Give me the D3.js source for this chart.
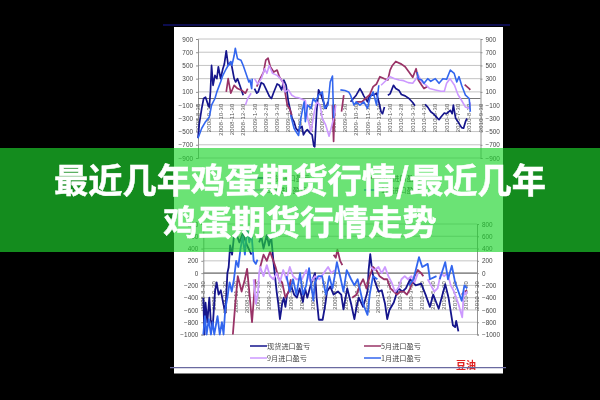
<!DOCTYPE html>
<html><head><meta charset="utf-8">
<script src="https://d3js.org/d3.v7.min.js"></script>
<style>html,body{margin:0;background:#000;overflow:hidden}svg{display:block}</style></head>
<body><svg id="c" width="600" height="400"></svg>
<script>
const tickLabels=["2008-8-30","2008-9-30","2008-10-30","2008-11-30","2008-12-30","2009-1-30","2009-2-28","2009-3-30","2009-4-30","2009-5-30","2009-6-30","2009-7-30","2009-8-30","2009-9-30","2009-10-30","2009-11-30","2009-12-30","2010-1-30","2010-2-28","2010-3-30","2010-4-30","2010-5-30","2010-6-30","2010-7-30","2010-8-30","2010-9-30"];
const topTicks=[900,700,500,300,100,-100,-300,-500,-700,-900];
const botTicks=[800,600,400,200,0,-200,-400,-600,-800,-1000];
const legendNames=["现货进口盈亏","5月进口盈亏","9月进口盈亏","1月进口盈亏"];
const titleLines=["最近几年鸡蛋期货行情/最近几年","鸡蛋期货行情走势"];
const N=null;
const spotTop=[[0,-600],[.1,-400],[.33,-150],[.5,0],[.67,20],[.9,-100],[1,-130],[1.1,100],[1.2,500],[1.33,200],[1.5,350],[1.67,300],[1.8,480],[2,300],[2.2,450],[2.33,520],[2.5,720],[2.67,500],[2.9,550],[3,480],[3.2,300],[3.33,250],[3.5,300],[3.7,200],[4,50],[4.05,N],[5,150],[5.2,80],[5.33,100],[5.6,240],[5.8,220],[6,150],[6.33,30],[6.5,0],[6.67,80],[7,220],[7.2,200],[7.4,130],[7.6,280],[7.8,200],[8,-50],[8.2,-200],[8.33,-300],[8.5,-350],[8.67,-450],[8.9,-500],[9,-450],[9.2,-420],[9.33,-550],[9.5,-500],[9.67,-470],[9.9,-520],[10.1,-550],[10.25,-720],[10.33,-730],[10.5,-200],[10.67,130],[10.9,50],[11,0],[11.2,-100],[11.33,-150],[11.5,-50],[11.6,N],[13.5,-50],[14,50],[14.33,150],[14.5,100],[14.67,40],[15,-50],[15.2,50],[15.5,50],[15.8,80],[16,-50],[16.2,-200],[16.33,-230],[16.5,-130],[16.6,N],[16.8,50],[17,70],[17.3,200],[17.5,150],[17.8,120],[18,60],[18.33,40],[18.67,0],[19,-60],[19.2,-110],[19.3,N],[20.1,-90],[20.33,-130],[20.6,-200],[20.9,-240],[21.2,-300],[21.33,-320],[21.5,-280],[21.8,-220],[22,-230],[22.33,-180],[22.5,-230],[22.6,-100],[22.8,-300],[23,-350],[23.33,-440],[23.5,-450],[23.67,-350],[23.8,-300]];
const janTop=[[0,-600],[.33,-450],[.67,-350],[1,-280],[1.2,-100],[1.5,0],[1.67,100],[2,250],[2.2,350],[2.5,450],[2.67,500],[2.9,560],[3,500],[3.2,650],[3.3,760],[3.5,600],[3.8,580],[4,500],[4.3,350],[4.5,250],[4.6,280],[4.75,150],[4.8,300],[4.85,N],[8.2,-250],[8.5,-450],[8.67,-500],[8.9,-560],[9.1,-300],[9.33,-100],[9.4,-50],[9.5,-350],[9.7,-100],[10,-150],[10.2,0],[10.4,-50],[10.67,50],[11,100],[11.2,-150],[11.5,-100],[11.7,250],[11.9,340],[12,-300],[12.05,N],[12.6,130],[13,120],[13.33,100],[13.5,50],[13.8,-100],[14,-50],[14.33,-100],[14.67,-50],[15,-150],[15.2,0],[15.5,100],[15.8,-100],[16,200],[16.1,N],[19.4,400],[19.5,300],[19.8,280],[20,230],[20.33,300],[20.6,260],[21,300],[21.33,230],[21.67,300],[22,290],[22.33,430],[22.67,380],[22.9,250],[23.1,330],[23.33,200],[23.67,50],[24,0],[24.1,-200]];
const mayTop=[[2.5,100],[2.67,300],[2.9,80],[3.2,200],[3.5,150],[3.9,120],[4.2,80],[4.4,150],[4.5,N],[5.2,180],[5.5,300],[5.8,400],[6,580],[6.2,610],[6.4,480],[6.7,400],[7,430],[7.2,330],[7.5,250],[7.7,100],[7.9,-100],[8.1,-150],[8.3,-250],[8.4,N],[11.9,-100],[12,-650],[12.1,-100],[12.2,N],[12.7,-200],[12.9,50],[13,N],[14,-50],[14.5,-50],[15.2,60],[15.5,180],[15.8,220],[16.1,330],[16.5,300],[16.8,280],[17,430],[17.2,500],[17.5,560],[18,520],[18.33,480],[18.67,400],[19,320],[19.3,450],[19.5,280],[19.8,200],[20,150],[20.3,180],[20.4,N],[23.6,210],[24,150],[24.1,130]];
const sepTop=[[4.2,-100],[4.4,0],[4.7,80],[4.8,N],[5,300],[5.3,220],[5.6,300],[5.9,450],[6.1,380],[6.3,500],[6.6,380],[7,350],[7.3,300],[7.5,250],[7.7,100],[8,130],[8.3,50],[8.6,20],[8.9,10],[9.2,-10],[9.5,-30],[9.7,-300],[10,-500],[10.3,-200],[10.5,-50],[10.8,-100],[11,-300],[11.3,-400],[11.6,-570],[12,-300],[12.2,-100],[12.3,N],[16.2,200],[16.5,250],[17,330],[17.4,300],[17.8,280],[18.2,270],[18.6,240],[19,230],[19.3,300],[19.5,350],[19.8,250],[20.2,200],[20.5,150],[21,130],[21.5,110],[21.8,110],[22,230],[22.3,300],[22.7,200],[23,60],[23.33,-30],[23.67,-130],[24,-150],[24.1,-60]];
const spotBot=[[0,-400],[.1,-1000],[.2,-480],[.37,-800],[.55,-400],[.67,-750],[.85,-900],[1.07,-300],[1.22,-150],[1.4,-350],[1.6,-280],[1.83,-500],[2.02,-650],[2.2,0],[2.32,100],[2.45,450],[2.63,300],[2.8,600],[3,650],[3.3,500],[3.6,650],[4,450],[4.4,300],[4.5,N],[5.1,500],[5.3,600],[5.5,400],[5.8,620],[6,450],[6.2,600],[6.4,200],[6.7,-300],[6.85,-500],[7,-750],[7.2,-500],[7.35,-400],[7.5,-550],[7.65,-350],[7.85,-280],[8,-200],[8.3,-350],[8.55,-400],[8.8,-250],[9.1,-470],[9.3,-250],[9.5,-400],[9.8,-200],[10.2,0],[10.35,-400],[10.55,-760],[10.9,-760],[11.15,-500],[11.3,-300],[11.6,-220],[11.9,-350],[12.3,-300],[12.6,-350],[12.8,-590],[13.15,-250],[13.5,-500],[13.8,-750],[14,-550],[14.2,-400],[14.6,-550],[15,-300],[15.1,50],[15.25,310],[15.45,0],[15.7,-150],[16,-300],[16.3,-280],[16.6,-500],[16.8,-750],[17,-600],[17.4,-480],[17.8,-250],[18.2,-300],[18.5,-250],[18.9,-100],[19.4,-200],[19.9,-170],[20.3,-350],[20.7,-550],[21,-350],[21.5,-580],[22.1,-180],[22.4,-400],[22.8,-850],[23,-880],[23.1,-780],[23.3,-950]];
const janBot=[[0,-1000],[.15,-700],[.3,-1000],[.5,-750],[.7,-1000],[.85,-800],[1,-1000],[1.3,-700],[1.5,-1000],[1.7,-800],[1.85,-1000],[2,-600],[2.2,-400],[2.4,-150],[2.6,-300],[2.8,-100],[3,200],[3.2,100],[3.4,400],[3.6,600],[3.8,300],[4,750],[4.2,500],[4.4,650],[4.6,200],[4.8,150],[4.95,220],[5,N],[7.6,-50],[7.9,-300],[8.2,-100],[8.5,-350],[8.84,0],[9.1,-350],[9.4,-200],[9.66,80],[9.9,-250],[10.05,-450],[10.2,-150],[10.5,-50],[10.85,-50],[11.2,-350],[11.5,-50],[11.8,-250],[12,-50],[12.2,180],[12.5,-50],[12.8,-300],[13.1,50],[13.5,-100],[13.8,-200],[14.1,-100],[14.6,-500],[15,-680],[15.2,-350],[15.5,-50],[15.9,-100],[16,N],[18.8,-200],[19.2,-100],[19.7,260],[20,100],[20.5,150],[20.7,-100],[21.3,-50],[21.4,N],[21.6,-100],[22.1,180],[22.35,-100],[22.7,120],[23,-150],[23.3,-300],[23.6,-450],[23.85,-200],[24.1,-250]];
const mayBot=[[2.7,-1000],[2.9,-550],[3.15,-50],[3.5,-300],[3.8,-100],[4,70],[4.2,-300],[4.45,-800],[4.75,-100],[4.8,N],[5.2,100],[5.5,300],[5.8,200],[6.1,350],[6.4,200],[6.6,100],[6.9,-100],[7.2,-150],[7.5,-400],[7.8,-300],[8,-100],[8.1,N],[11.9,300],[12.1,250],[12.25,380],[12.5,200],[12.7,130],[12.8,N],[13.6,-400],[14,-350],[14.3,-200],[14.6,-100],[14.9,-250],[15.2,-50],[15.5,100],[15.8,50],[16.1,-50],[16.5,-100],[16.8,-100],[17.1,-250],[17.4,-300],[17.7,-350],[18,-300],[18.3,-300],[18.6,-350],[18.9,-250],[19.3,-50],[19.6,50],[19.9,0],[20.1,-50],[20.2,N],[23.6,-350],[23.9,-300],[24.1,-280]];
const sepBot=[[4.6,-100],[4.8,-500],[5,-300],[5.1,0],[5.2,100],[5.5,-50],[5.8,130],[6.1,-50],[6.4,-100],[6.7,0],[7,-150],[7.3,50],[7.6,-100],[7.9,100],[8.2,-50],[8.5,-100],[9,-100],[9.4,50],[9.8,-150],[10.2,-50],[10.6,-100],[11,0],[11.4,100],[11.7,0],[12,50],[12.1,N],[15.3,100],[15.6,50],[16,100],[16.3,0],[16.6,100],[16.9,-50],[17.2,-150],[17.5,-300],[17.8,-250],[18.1,-100],[18.4,-50],[18.7,-100],[19,-50],[19.3,-150],[19.6,0],[19.9,N],[20.5,-100],[20.8,-200],[21.1,-300],[21.4,-250],[21.7,0],[22,-50],[22.3,0],[22.6,-200],[22.9,-300],[23.3,-500],[23.65,-720],[23.8,-300],[23.95,-350],[24.1,-300]];
const colors={spot:"#14148c",may:"#993366",sep:"#cc99ff",jan:"#3366ee"};

const svg=d3.select("#c");
const defs=svg.append("defs");
defs.append("filter").attr("id","soft").attr("x",0).attr("y",0).attr("width",1).attr("height",1).attr("filterUnits","userSpaceOnUse")
  .attr("width",600).attr("height",400).append("feGaussianBlur").attr("stdDeviation",0.55);
svg.append("rect").attr("x",0).attr("y",0).attr("width",600).attr("height",400).attr("fill","#000");
const page=svg.append("g").attr("filter","url(#soft)");
page.append("line").attr("x1",163).attr("x2",510).attr("y1",25).attr("y2",25).attr("stroke","#12126a").attr("stroke-width",1.4);
page.append("rect").attr("x",174).attr("y",27).attr("width",329).attr("height",346.5).attr("fill","#fff");

const FONT="'Liberation Sans','Noto Sans CJK SC',sans-serif";
function panel(cfg){
  const x=d3.scaleLinear().domain([0,25]).range(cfg.xr);
  const y=d3.scaleLinear().domain(cfg.vd).range(cfg.yr);
  const g=page.append("g");
  g.append("g").selectAll("line").data(cfg.ticks).join("line")
    .attr("x1",cfg.xr[0]).attr("x2",cfg.xr[1]).attr("y1",d=>y(d)).attr("y2",d=>y(d))
    .attr("stroke","#bdbdbd").attr("stroke-width",.9);
  [[d3.axisLeft(y),cfg.xr[0]],[d3.axisRight(y),cfg.xr[1]]].forEach(([ax,px])=>{
    const a=g.append("g").attr("transform",`translate(${px},0)`)
      .call(ax.tickValues(cfg.ticks).tickSize(2).tickPadding(3).tickFormat(d=>d<0?"\u2212"+(-d):d));
    a.selectAll("path,line").attr("stroke","#888").attr("stroke-width",.9);
    a.selectAll("text").attr("fill","#444").attr("font-size",6.4).attr("font-family",FONT);
  });
  g.append("line").attr("x1",cfg.xr[0]).attr("x2",cfg.xr[1]).attr("y1",y(0)).attr("y2",y(0)).attr("stroke","#777").attr("stroke-width",1.1);
  g.append("g").selectAll("text").data(tickLabels).join("text")
    .attr("transform",(d,i)=>`translate(${x(i)+2},${y(0)+cfg.lo}) rotate(-90)`)
    .attr("text-anchor","end").attr("font-size",5.8).attr("letter-spacing",.25).attr("font-family",FONT).attr("fill","#555").text(d=>d);
  const line=d3.line().defined(d=>d[1]!==null).x(d=>x(d[0])).y(d=>y(d[1]));
  cfg.series.forEach(([data,c,w])=>{
    g.append("path").datum(data).attr("d",line).attr("fill","none").attr("stroke",c).attr("stroke-width",w).attr("stroke-linejoin","round");
  });
  const lg=[[0,0,colors.spot],[1,0,colors.may],[0,1,colors.sep],[1,1,colors.jan]];
  lg.forEach(([cx,ry,c],i)=>{
    const lx=cfg.lx[cx], ly=cfg.ly+ry*12;
    g.append("line").attr("x1",lx).attr("x2",lx+17).attr("y1",ly).attr("y2",ly).attr("stroke",c).attr("stroke-width",1.5);
    g.append("text").attr("x",lx+17).attr("y",ly+2.6).attr("font-size",7.2).attr("fill","#444").attr("font-family","'Noto Sans CJK SC',sans-serif").text(legendNames[i]);
  });
}
panel({xr:[198,480.5],yr:[39,158],vd:[900,-900],ticks:topTicks,lx:[250,364],ly:178,lo:5,
  series:[[spotTop,colors.spot,1.7],[mayTop,colors.may,1.7],[sepTop,colors.sep,1.6],[janTop,colors.jan,1.6]]});
panel({xr:[203.3,477],yr:[224,334.5],vd:[800,-1000],ticks:botTicks,lx:[250,364],ly:346,lo:8,
  series:[[spotBot,colors.spot,1.8],[mayBot,colors.may,1.8],[sepBot,colors.sep,1.8],[janBot,colors.jan,1.8]]});
page.append("text").attr("x",456).attr("y",369).attr("font-size",10).attr("font-weight",700).attr("fill","#e02020").attr("font-family","'Noto Sans CJK SC',sans-serif").text("豆油");
page.append("line").attr("x1",170).attr("x2",506).attr("y1",367.6).attr("y2",367.6).attr("stroke","#6a6aa0").attr("stroke-width",1.1);

svg.append("rect").attr("x",0).attr("y",148).attr("width",600).attr("height",104).attr("fill","rgb(30,212,45)").attr("fill-opacity",.66);
svg.append("g").selectAll("text").data(titleLines).join("text")
  .attr("x",300).attr("y",(d,i)=>193+i*42).attr("text-anchor","middle")
  .attr("font-size",34.2).attr("font-weight",700).attr("fill","#fff").attr("stroke","#fff").attr("stroke-width",.5)
  .attr("font-family","'Noto Sans CJK SC',sans-serif").text(d=>d);
</script></body></html>
